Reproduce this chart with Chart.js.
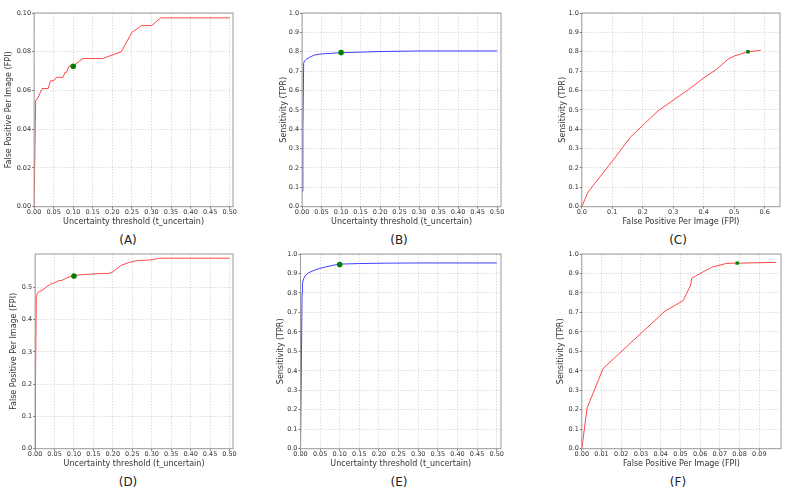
<!DOCTYPE html>
<html>
<head>
<meta charset="utf-8">
<script src="https://cdn.jsdelivr.net/npm/chart.js@4.4.1/dist/chart.umd.min.js"></script>
<style>
  body { margin: 0; background: #fff; width: 793px; height: 496px; position: relative; overflow: hidden; }
  canvas { position: absolute; }
  .tag { position: absolute; font-family: 'DejaVu Sans', sans-serif; font-size: 12px; color: #222; transform: translate(-50%, -50%); }
</style>
</head>
<body>
<script>
// (A) FPI against uncertainty threshold
const thrA = [0, 0.004, 0.008, 0.0205, 0.036, 0.042, 0.05, 0.057, 0.074, 0.079, 0.083, 0.089, 0.10, 0.125, 0.175, 0.223, 0.25, 0.275, 0.30, 0.324, 0.50];
const fpiA = [0, 0.055, 0.0555, 0.061, 0.061, 0.065, 0.065, 0.0668, 0.0668, 0.0694, 0.0694, 0.0725, 0.0728, 0.0765, 0.0765, 0.080, 0.090, 0.0935, 0.0935, 0.0975, 0.0975];
const dotA = [0.10, 0.0725];

// (B) sensitivity against uncertainty threshold
const thrB = [0, 0.002, 0.004, 0.006, 0.01, 0.02, 0.03, 0.045, 0.07, 0.10, 0.15, 0.20, 0.30, 0.50];
const tprB = [0.08, 0.4, 0.74, 0.752, 0.76, 0.772, 0.782, 0.788, 0.791, 0.795, 0.798, 0.801, 0.804, 0.804];
const dotB = [0.10, 0.796];

// (C) sensitivity against FPI
const fpiC = [0, 0.02, 0.1, 0.16, 0.2, 0.25, 0.3, 0.35, 0.4, 0.44, 0.48, 0.5, 0.545, 0.587];
const tprC = [0, 0.075, 0.235, 0.36, 0.42, 0.495, 0.55, 0.605, 0.665, 0.707, 0.762, 0.778, 0.80, 0.807];
const dotC = [0.545, 0.80];

// (D)
const thrD = [0, 0.001, 0.003, 0.006, 0.011, 0.02, 0.03, 0.04, 0.05, 0.06, 0.07, 0.085, 0.10, 0.12, 0.16, 0.19, 0.20, 0.22, 0.24, 0.26, 0.30, 0.32, 0.50];
const fpiD = [0, 0.2, 0.47, 0.482, 0.487, 0.492, 0.502, 0.51, 0.514, 0.52, 0.522, 0.531, 0.536, 0.539, 0.542, 0.543, 0.548, 0.567, 0.576, 0.582, 0.585, 0.59, 0.59];
const dotD = [0.10, 0.535];

// (E)
const thrE = [0, 0.002, 0.004, 0.005, 0.008, 0.012, 0.02, 0.03, 0.045, 0.065, 0.085, 0.10, 0.15, 0.22, 0.30, 0.50];
const tprE = [0, 0.4, 0.8, 0.85, 0.873, 0.888, 0.903, 0.912, 0.924, 0.934, 0.943, 0.948, 0.951, 0.953, 0.954, 0.954];
const dotE = [0.10, 0.946];

// (F)
const fpiF = [0, 0.0027, 0.0108, 0.0421, 0.0514, 0.0552, 0.0557, 0.0616, 0.0658, 0.0734, 0.0788, 0.0985];
const tprF = [0, 0.21, 0.412, 0.706, 0.761, 0.84, 0.875, 0.909, 0.932, 0.952, 0.953, 0.957];
const dotF = [0.0788, 0.953];

// tick values
const ticksThr = [0, 0.05, 0.10, 0.15, 0.20, 0.25, 0.30, 0.35, 0.40, 0.45, 0.50];
const ticksTenth = [0, 0.1, 0.2, 0.3, 0.4, 0.5, 0.6, 0.7, 0.8, 0.9, 1.0];
const ticksFpiA = [0, 0.02, 0.04, 0.06, 0.08, 0.10];
const ticksFpiC = [0, 0.1, 0.2, 0.3, 0.4, 0.5, 0.6];
const ticksFpiD = [0, 0.1, 0.2, 0.3, 0.4, 0.5];
const ticksFpiF = [0, 0.01, 0.02, 0.03, 0.04, 0.05, 0.06, 0.07, 0.08, 0.09];

const FONT = "'DejaVu Sans', sans-serif";
const RED = 'rgba(255,0,0,0.72)';
const BLUE = 'rgba(0,0,255,0.75)';
const T_THR = 'Uncertainty threshold (t_uncertain)';
const T_FPI = 'False Positive Per Image (FPI)';
const T_TPR = 'Sensitivity (TPR)';
const TITLE_SIZE = 8;
const HALF_TITLE = TITLE_SIZE * 1.2 / 2;

const frame = {
    id: 'frame',
    afterDraw(chart) {
        const { ctx, chartArea: a } = chart;
        ctx.save();
        ctx.strokeStyle = '#9a9a9a';
        ctx.lineWidth = 1;
        ctx.strokeRect(a.left, a.top, a.right - a.left, a.bottom - a.top);
        ctx.restore();
    }
};

function toPts(xs, ys) {
    return xs.map((x, i) => ({ x: x, y: ys[i] }));
}

function axis(ticks, max, dec, title, fit, pad) {
    return {
        type: 'linear',
        min: 0,
        max: max,
        afterFit: fit,
        afterBuildTicks: s => { s.ticks = ticks.map(v => ({ value: v })); },
        ticks: {
            font: { family: FONT, size: 6.5 },
            color: '#333',
            padding: pad,
            autoSkip: false,
            maxRotation: 0,
            minRotation: 0,
            callback: v => v.toFixed(dec)
        },
        title: { display: true, text: title, font: { family: FONT, size: TITLE_SIZE }, color: '#333', padding: 0 },
        grid: {
            color: 'rgba(0,0,0,0.17)',
            lineWidth: 0.8,
            tickLength: 2,
            tickColor: '#555',
            tickWidth: 0.8,
            tickBorderDash: []
        },
        border: { display: false, dash: [1.5, 1.5] }
    };
}

function panel(p) {
    const left = p.titleX - HALF_TITLE;
    const top = p.plotT - 6;
    const xH = 15.5 + HALF_TITLE;
    const w = p.plotR + 8 - left;
    const h = p.plotB + xH - top;
    const canvas = document.createElement('canvas');
    canvas.width = Math.round(w);
    canvas.height = Math.round(h);
    canvas.style.left = left + 'px';
    canvas.style.top = top + 'px';
    document.body.appendChild(canvas);

    new Chart(canvas.getContext('2d'), {
        type: 'scatter',
        data: {
            datasets: [
                {
                    data: [{ x: p.dot[0], y: p.dot[1] }],
                    pointStyle: p.small ? 'rect' : 'circle',
                    pointRadius: p.small ? 2.4 : 2.8,
                    pointBackgroundColor: '#008000',
                    pointBorderColor: '#008000',
                    borderWidth: 0
                },
                {
                    data: toPts(p.xs, p.ys),
                    showLine: true,
                    borderColor: p.color,
                    borderWidth: 1,
                    pointRadius: 0
                }
            ]
        },
        options: {
            responsive: false,
            animation: false,
            layout: { padding: { left: 0, top: 6, right: 8, bottom: 0 } },
            plugins: { legend: { display: false }, tooltip: { enabled: false } },
            scales: {
                x: axis(p.xTicks, p.xMax, p.xDec, p.xTitle, s => { s.height = xH; }, 0),
                y: axis(p.yTicks, p.yMax, p.yDec, p.yTitle, s => { s.width = p.plotL - left; }, 1)
            }
        },
        plugins: [frame]
    });

    const tag = document.createElement('div');
    tag.className = 'tag';
    tag.textContent = p.tag;
    tag.style.left = p.tagX + 'px';
    tag.style.top = p.tagY + 'px';
    document.body.appendChild(tag);
}

const panels = [
    { tag: '(A)', tagX: 128, tagY: 240, plotL: 34.3, plotR: 233.3, plotT: 13.3, plotB: 207.3, titleX: 9,
      xs: thrA, ys: fpiA, dot: dotA, color: RED, xTicks: ticksThr, xMax: 0.5085, xDec: 2, xTitle: T_THR,
      yTicks: ticksFpiA, yMax: 0.10, yDec: 2, yTitle: T_FPI },
    { tag: '(B)', tagX: 399, tagY: 240, plotL: 302.3, plotR: 501.3, plotT: 13.3, plotB: 207.3, titleX: 284,
      xs: thrB, ys: tprB, dot: dotB, color: BLUE, xTicks: ticksThr, xMax: 0.51, xDec: 2, xTitle: T_THR,
      yTicks: ticksTenth, yMax: 1.0, yDec: 1, yTitle: T_TPR },
    { tag: '(C)', tagX: 678, tagY: 240, plotL: 582, plotR: 780.3, plotT: 13.3, plotB: 207.3, titleX: 563, small: true,
      xs: fpiC, ys: tprC, dot: dotC, color: RED, xTicks: ticksFpiC, xMax: 0.65, xDec: 1, xTitle: T_FPI,
      yTicks: ticksTenth, yMax: 1.0, yDec: 1, yTitle: T_TPR },
    { tag: '(D)', tagX: 128, tagY: 482, plotL: 35.3, plotR: 233.3, plotT: 254, plotB: 449, titleX: 14,
      xs: thrD, ys: fpiD, dot: dotD, color: RED, xTicks: ticksThr, xMax: 0.509, xDec: 2, xTitle: T_THR,
      yTicks: ticksFpiD, yMax: 0.603, yDec: 1, yTitle: T_FPI },
    { tag: '(E)', tagX: 399, tagY: 482, plotL: 300.7, plotR: 500.7, plotT: 254, plotB: 449, titleX: 281,
      xs: thrE, ys: tprE, dot: dotE, color: BLUE, xTicks: ticksThr, xMax: 0.511, xDec: 2, xTitle: T_THR,
      yTicks: ticksTenth, yMax: 1.0, yDec: 1, yTitle: T_TPR },
    { tag: '(F)', tagX: 678, tagY: 482, plotL: 582, plotR: 781, plotT: 254, plotB: 449, titleX: 561, small: true,
      xs: fpiF, ys: tprF, dot: dotF, color: RED, xTicks: ticksFpiF, xMax: 0.101, xDec: 2, xTitle: T_FPI,
      yTicks: ticksTenth, yMax: 1.0, yDec: 1, yTitle: T_TPR }
];

panels.forEach(panel);
</script>
</body>
</html>
